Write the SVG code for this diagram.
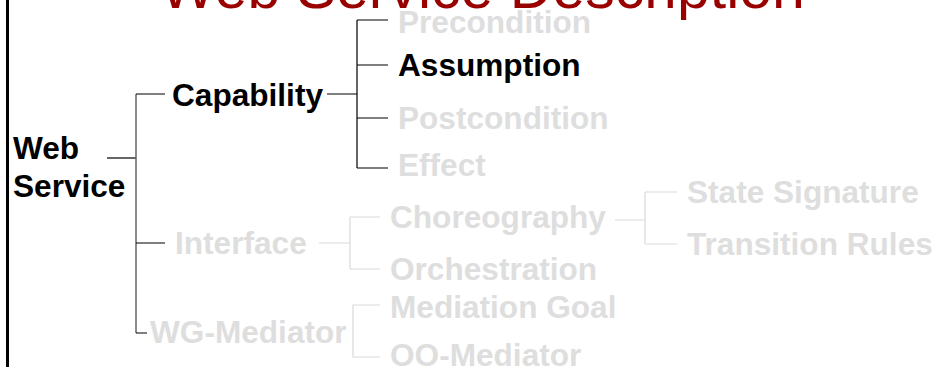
<svg xmlns="http://www.w3.org/2000/svg" width="939" height="367" viewBox="0 0 939 367">
<style>
text{font-family:"Liberation Sans",Arial,sans-serif;font-weight:bold;font-size:31.6px}
.on{fill:#000}
.off{fill:#DEDEDE}
.title{font-weight:normal;font-size:59px;fill:#990000}
.k{stroke:#000;stroke-width:1.2;fill:none}
.g{stroke:#D9D9D9;stroke-width:1.2;fill:none}
.m{stroke:#666;stroke-width:1.5;fill:none}
</style>
<rect width="939" height="367" fill="#fff"/>
<line x1="7.5" y1="0" x2="7.5" y2="367" stroke="#000" stroke-width="3"/>
<text class="title" x="160" y="8">Web Service Description</text>
<g id="connectors">
<path class="k" d="M107 158H136"/>
<path class="m" d="M136 94V333"/>
<path class="k" d="M136 94H165M136 243H165M136 333H147"/>
<path class="k" d="M327 94H357M357 20V168M357 20H388M357 65H388M357 118H388M357 168H388"/>
<path class="g" d="M319 243H350M350 217V269M350 217H380M350 269H380"/>
<path class="g" d="M380 305H353V357H380"/>
<path class="g" d="M615 220H645M645 192V244M645 192H677M645 244H677"/>
</g>
<g id="web-service"><text class="on" x="13" y="159">Web</text><text class="on" x="13" y="197">Service</text></g>
<g id="capability"><text class="on" x="172" y="106">Capability</text></g>
<g id="precondition"><text class="off" x="398" y="33">Precondition</text></g>
<g id="assumption"><text class="on" x="398" y="76">Assumption</text></g>
<g id="postcondition"><text class="off" x="398" y="129">Postcondition</text></g>
<g id="effect"><text class="off" x="398" y="176">Effect</text></g>
<g id="interface"><text class="off" x="175" y="254">Interface</text></g>
<g id="choreography"><text class="off" x="390" y="228">Choreography</text></g>
<g id="orchestration"><text class="off" x="390" y="280">Orchestration</text></g>
<g id="state-signature"><text class="off" x="687" y="203">State Signature</text></g>
<g id="transition-rules"><text class="off" x="687" y="255">Transition Rules</text></g>
<g id="wg-mediator"><text class="off" x="150" y="343">WG-Mediator</text></g>
<g id="mediation-goal"><text class="off" x="390" y="318">Mediation Goal</text></g>
<g id="oo-mediator"><text class="off" x="390" y="366">OO-Mediator</text></g>
</svg>
